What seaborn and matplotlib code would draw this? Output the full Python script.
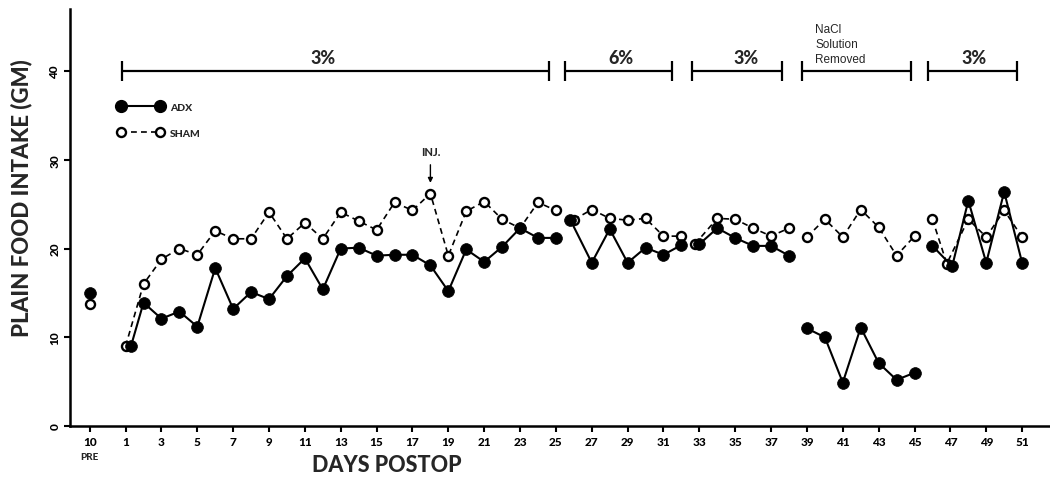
import numpy as np
import pandas as pd
import seaborn as sns
import matplotlib.pyplot as plt
from matplotlib.lines import Line2D

# ---------------- data ----------------
pre_day = -1
adx_pre = 15.0
sham_pre = 13.8

# segment 1 : 3% NaCl, days 1-25
adx_days_1 = [1.3] + list(range(2, 26))
adx_vals_1 = [9.0, 13.9, 12.1, 12.9, 11.2, 17.8, 13.2, 15.1, 14.3, 16.9, 18.9, 15.4,
              20.0, 20.1, 19.2, 19.3, 19.3, 18.1, 15.2, 19.9, 18.5, 20.2, 22.3, 21.2, 21.2]
sham_days_1 = list(range(1, 26))
sham_vals_1 = [9.0, 16.0, 18.8, 20.0, 19.3, 22.0, 21.1, 21.1, 24.1, 21.1, 22.9, 21.1,
               24.1, 23.1, 22.1, 25.2, 24.3, 26.2, 19.2, 24.2, 25.3, 23.3, 22.3, 25.2, 24.3]
# segment 2 : 6% NaCl, days 26-32
adx_days_2 = [25.8, 27, 28, 29, 30, 31, 32]
adx_vals_2 = [23.25, 18.4, 22.2, 18.4, 20.1, 19.3, 20.4]
sham_days_2 = [26, 27, 28, 29, 30, 31, 32]
sham_vals_2 = [23.25, 24.4, 23.4, 23.2, 23.4, 21.4, 21.4]
# segment 3 : 3% NaCl, days 33-38
adx_days_3 = [33, 34, 35, 36, 37, 38]
adx_vals_3 = [20.5, 22.3, 21.2, 20.3, 20.3, 19.2]
sham_days_3 = [32.75, 34, 35, 36, 37, 38]
sham_vals_3 = [20.5, 23.4, 23.3, 22.3, 21.4, 22.3]
# segment 4 : NaCl solution removed, days 39-45
adx_days_4 = [39, 40, 41, 42, 43, 44, 45]
adx_vals_4 = [11.0, 10.0, 4.9, 11.1, 7.1, 5.2, 6.0]
sham_days_4 = [39, 40, 41, 42, 43, 44, 45]
sham_vals_4 = [21.3, 23.3, 21.3, 24.4, 22.4, 19.2, 21.4]
# segment 5 : 3% NaCl, days 46-51
adx_days_5 = [46, 47.1, 48, 49, 50, 51]
adx_vals_5 = [20.3, 18.0, 25.4, 18.4, 26.4, 18.4]
sham_days_5 = [46, 46.8, 48, 49, 50, 51]
sham_vals_5 = [23.3, 18.3, 23.3, 21.3, 24.3, 21.3]

phase_labels = ['3%', '6%', '3%', 'NaCl\nSolution\nRemoved', '3%']
phase_start = [0.8, 25.5, 32.6, 38.7, 45.75]
phase_end = [24.6, 31.5, 37.6, 44.8, 50.7]

tick_days = [-1] + list(range(1, 52, 2))
tick_labels = ['10'] + [str(d) for d in range(1, 52, 2)]
ytick_vals = [0, 10, 20, 30, 40]

# -------------- build frames --------------
def frame(group, segs):
    rows = []
    for seg, (days, vals) in enumerate(segs):
        for d, v in zip(days, vals):
            rows.append((group, seg, d, v))
    return pd.DataFrame(rows, columns=['group', 'seg', 'day', 'val'])

adx_df = frame('ADX', [([pre_day], [adx_pre]), (adx_days_1, adx_vals_1), (adx_days_2, adx_vals_2),
                       (adx_days_3, adx_vals_3), (adx_days_4, adx_vals_4), (adx_days_5, adx_vals_5)])
sham_df = frame('SHAM', [([pre_day], [sham_pre]), (sham_days_1, sham_vals_1), (sham_days_2, sham_vals_2),
                         (sham_days_3, sham_vals_3), (sham_days_4, sham_vals_4), (sham_days_5, sham_vals_5)])

# -------------- plot --------------
sns.set_theme(style='ticks')
plt.rcParams['font.family'] = ['Lato', 'DejaVu Sans']

fig = plt.figure(figsize=(10.5, 4.85), dpi=100)
ax = fig.add_axes([70 / 1050, 1 - 427 / 485, (1049 - 70) / 1050, (427 - 10) / 485])

dash = (0, (3.5, 2.5))
sns.lineplot(data=sham_df, x='day', y='val', units='seg', estimator=None, sort=False, ax=ax,
             color='black', lw=1.2, dashes=False, linestyle=dash,
             marker='o', markersize=6.5, markerfacecolor='white', markeredgecolor='black',
             markeredgewidth=1.7, zorder=3)
sns.lineplot(data=adx_df, x='day', y='val', units='seg', estimator=None, sort=False, ax=ax,
             color='black', lw=1.5, marker='o', markersize=8.5, markerfacecolor='black',
             markeredgecolor='black', markeredgewidth=0.5, zorder=4)

ax.set_xlim(-2.1, 52.5)
ax.set_ylim(0, 47)
ax.set_xticks(tick_days)
ax.set_xticklabels(tick_labels)
ax.set_yticks(ytick_vals)
ax.set_yticklabels([str(v) for v in ytick_vals])
ax.tick_params(axis='both', direction='out', length=4, width=1.5, color='black',
               labelsize=8.5, labelcolor='black')
ax.tick_params(axis='x', pad=3)
ax.tick_params(axis='y', labelrotation=90, pad=3)
for lab in ax.get_xticklabels() + ax.get_yticklabels():
    lab.set_fontweight('black')
for lab in ax.get_yticklabels():
    lab.set_verticalalignment('center')
for s in ['top', 'right']:
    ax.spines[s].set_visible(False)
for s in ['left', 'bottom']:
    ax.spines[s].set_linewidth(1.8)
    ax.spines[s].set_color('black')

ax.set_xlabel('DAYS POSTOP', fontsize=15.5, fontweight='black', labelpad=5, x=0.324)
ax.set_ylabel('PLAIN FOOD INTAKE (GM)', fontsize=16, fontweight='black', labelpad=12, y=0.55)

ax.text(pre_day, -0.072, 'PRE', transform=ax.get_xaxis_transform(), ha='center', va='center',
        fontsize=7, fontweight='black')

# phase brackets
bar_y = 40
ax.hlines([bar_y] * len(phase_start), phase_start, phase_end, color='black', lw=1.6)
ax.vlines(phase_start + phase_end, bar_y - 1.1, bar_y + 1.1, color='black', lw=1.6)
label_x = [12.0, 28.6, 35.6, 39.45, 48.3]
for lab, lx in zip(phase_labels, label_x):
    if '\n' in lab:
        ax.text(lx, bar_y + 0.7, lab, ha='left', va='bottom', fontsize=8.5, linespacing=1.35,
                family=['Liberation Sans', 'DejaVu Sans'])
    else:
        ax.text(lx, bar_y + 0.6, lab, ha='center', va='bottom', fontsize=13, fontweight='black')

# injection arrow
ax.annotate('INJ.', xy=(18, 27.4), xytext=(18, 30.9), ha='center', va='center',
            fontsize=8, fontweight='black',
            arrowprops=dict(arrowstyle='-|>', color='black', lw=1.0, mutation_scale=7,
                            shrinkA=3, shrinkB=0))

# legend
handles = [
    Line2D([], [], color='black', lw=1.5, marker='o', markersize=8.5, markerfacecolor='black'),
    Line2D([], [], color='black', lw=1.2, linestyle=dash, marker='o', markersize=6.5,
           markerfacecolor='white', markeredgewidth=1.7),
]
leg = ax.legend(handles, ['ADX', 'SHAM'], numpoints=2, frameon=False, loc='upper left',
                bbox_to_anchor=(0.039, 0.798), handlelength=4.4, handletextpad=0.6,
                labelspacing=1.6, prop=dict(size=7.5, weight='black'))

fig.savefig('out.png', dpi=100, facecolor='white')
